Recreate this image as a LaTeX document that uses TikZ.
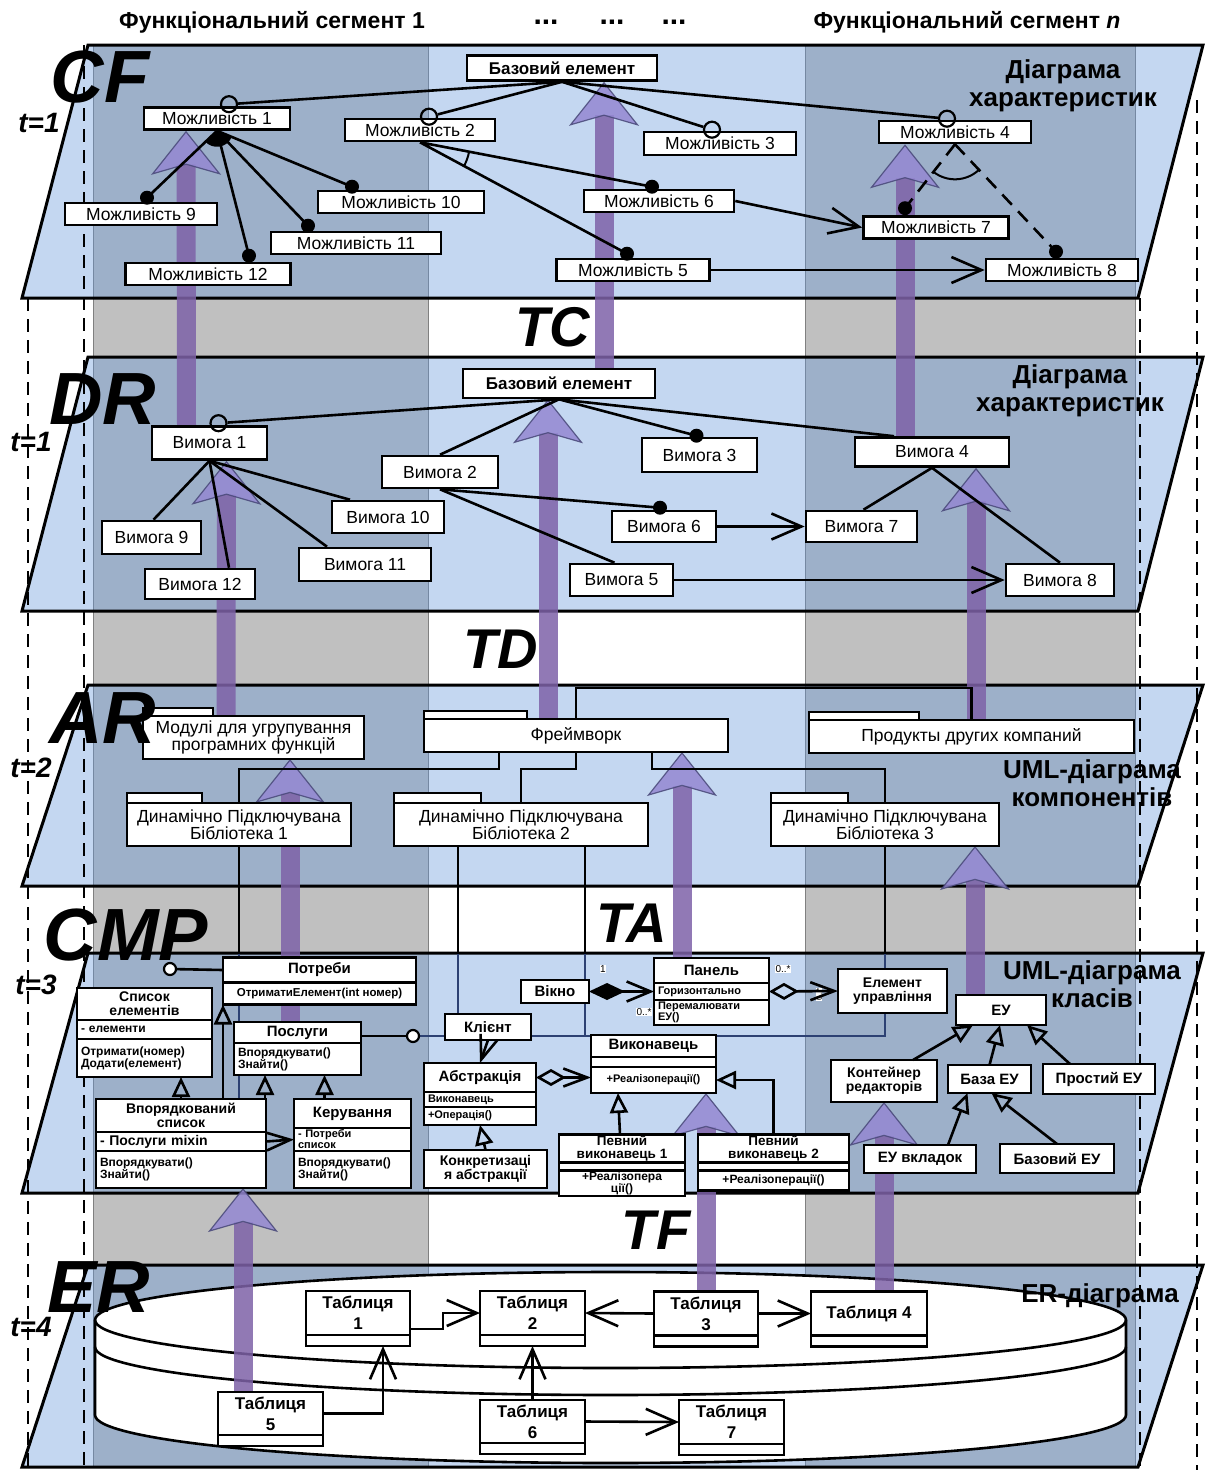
\documentclass[tikz,border=0pt]{standalone}
\usepackage{fontspec}
\setmainfont{Liberation Sans}
\usetikzlibrary{arrows.meta,positioning,calc}

\newcommand\fsz[1]{\fontsize{#1}{#1}\selectfont}

\definecolor{laycol}{RGB}{100,150,218}
\definecolor{colgray}{RGB}{192,192,192}
\definecolor{shaftcol}{RGB}{126,98,168}
\definecolor{headfill}{RGB}{148,136,210}
\definecolor{headline}{RGB}{72,72,120}
\definecolor{faintcol}{RGB}{45,65,115}

\pgfdeclarelayer{back}
\pgfdeclarelayer{mid}
\pgfsetlayers{back,mid,main}

\tikzset{
  plane/.style={draw=black, line width=3pt, fill=laycol, fill opacity=0.38},
  feat/.style={draw, line width=2.6pt, fill=white, inner sep=0pt, minimum height=22pt, font=\fsz{17.5}},
  basebox/.style={feat, font=\bfseries\fsz{17}},
  comp/.style={draw, line width=2.6pt, fill=white, inner sep=0pt, outer sep=0pt, align=center, font=\fsz{17.5}},
  ctab/.style={draw, line width=2.4pt, fill=white, inner sep=0pt, outer sep=0pt, anchor=south west, minimum height=8pt},
  cls/.style={draw, line width=2.4pt, fill=white, inner sep=1pt, outer sep=0pt, align=center, font=\bfseries\fsz{15}},
  part/.style={cls, anchor=north, font=\bfseries\fsz{12}},
  lpart/.style={part, align=left, inner xsep=4pt, text width=#1},
  tbl/.style={draw, line width=2.6pt, fill=white, inner sep=0pt, outer sep=0pt, align=center, font=\bfseries\fontsize{17}{21}\selectfont},
  tcomp/.style={tbl, anchor=north, minimum height=11pt},
  fdot/.style={circle, fill=black, inner sep=0pt, minimum size=14pt},
  odot/.style={circle, draw, line width=2.2pt, inner sep=0pt, minimum size=16pt},
  lolli/.style={circle, draw, line width=2.2pt, fill=white, inner sep=0pt, minimum size=12pt},
  mult/.style={fill=white, inner sep=0.5pt, font=\fsz{10}},
  link/.style={line width=2.6pt},
  faint/.style={draw=faintcol, line width=1.2pt},
  opn/.style={arrows={-Straight Barb[length=30pt,width=26pt]}},
  opns/.style={arrows={-Straight Barb[length=24pt,width=18pt]}},
  gen/.style={arrows={-Triangle[open,length=20pt,width=18pt]}},
  compo/.style={arrows={Diamond[length=36pt,width=17pt]-Straight Barb[length=24pt,width=20pt]}},
  aggr/.style={arrows={Diamond[open,length=30pt,width=17pt]-Straight Barb[length=24pt,width=18pt]}},
  big/.style={line width=19pt, draw=shaftcol, opacity=.85,
    arrows={-Stealth[length=44pt,width=70pt,inset=10pt,line width=1.2pt,color=headline,fill=headfill]}},
  vdash/.style={line width=1.6pt, dash pattern=on 13pt off 8pt},
  biglbl/.style={font=\bfseries\itshape\fsz{74}, inner sep=0pt},
  gaplbl/.style={font=\bfseries\itshape\fsz{56}, inner sep=0pt},
  tlbl/.style={font=\bfseries\itshape\fsz{28}, inner sep=0pt},
  ttl/.style={font=\bfseries\fontsize{26}{28}\selectfont, align=center, inner sep=0pt},
  headlbl/.style={font=\bfseries\fsz{23}, inner sep=0pt},
}

\begin{document}
\begin{tikzpicture}[x=1pt,y=-1pt]
\useasboundingbox (0,0) rectangle (1206,1470);

% background: columns, planes, database
\begin{pgfonlayer}{back}
  \fill[colgray] (93,45) rectangle (428,1467);
  \fill[colgray] (805,45) rectangle (1135,1467);
  \foreach \cx in {93,428,805,1135}
    \draw[gray, line width=0.6pt] (\cx,45) -- (\cx,1467);
  \foreach \ya/\yb in {45/298, 357/611, 685/886, 953/1193, 1265/1467}
    \draw[plane] (88,\ya) -- (1203,\ya) -- (1138,\yb) -- (22,\yb) -- cycle;
  % database cylinder
  \draw[line width=2.6pt, fill=white] (95,1320) -- (95,1415)
    arc[start angle=180, end angle=0, x radius=515.5, y radius=48] -- (1126,1320)
    arc[start angle=0, end angle=-180, x radius=515.5, y radius=48] -- cycle;
  \draw[line width=2.6pt] (95,1320) arc[start angle=180, end angle=0, x radius=515.5, y radius=48];
  \draw[line width=2.6pt] (95,1347) arc[start angle=180, end angle=0, x radius=515.5, y radius=48];
\end{pgfonlayer}

% headings
\node[headlbl] (seg1) at (272,22) {Функціональний сегмент 1};
\node[headlbl, font=\bfseries\fsz{30}] (dt1) at (546,22) {...};
\node[headlbl, font=\bfseries\fsz{30}] (dt2) at (612,22) {...};
\node[headlbl, font=\bfseries\fsz{30}] (dt3) at (674,22) {...};
\node[headlbl] (segn) at (967,22) {Функціональний сегмент \textit{n}};

% ---- CF: feature diagram
\node[basebox, minimum width=190pt, minimum height=25pt] (cfb) at (562,68) {Базовий елемент};
\node[feat, minimum width=146pt] (m1) at (217,118.5) {Можливість 1};
\node[feat, minimum width=150pt] (m2) at (420,130) {Можливість 2};
\node[feat, minimum width=152pt, minimum height=23pt] (m3) at (720,143.5) {Можливість 3};
\node[feat, minimum width=152pt] (m4) at (955,132) {Можливість 4};
\node[feat, minimum width=152pt] (m9) at (141,214) {Можливість 9};
\node[feat, minimum width=166pt] (m10) at (401,202) {Можливість 10};
\node[feat, minimum width=170pt] (m11) at (356,243) {Можливість 11};
\node[feat, minimum width=165pt] (m12) at (208,274) {Можливість 12};
\node[feat, minimum width=150pt] (m6) at (659,201) {Можливість 6};
\node[feat, minimum width=145pt] (m7) at (936,227.5) {Можливість 7};
\node[feat, minimum width=153pt] (m5) at (633,270) {Можливість 5};
\node[feat, minimum width=152pt] (m8) at (1062,270) {Можливість 8};

\node[odot] (o1) at ([xshift=12pt,yshift=2pt]m1.north) {};
\node[odot] (o2) at ([xshift=9pt,yshift=1pt]m2.north) {};
\node[odot] (o3) at ([xshift=-8pt,yshift=1pt]m3.north) {};
\node[odot] (o4) at ([xshift=-8pt,yshift=1pt]m4.north) {};
\node[fdot] (d9) at ([xshift=6pt,yshift=4pt]m9.north) {};
\node[fdot] (d10) at ([xshift=-49pt,yshift=3pt]m10.north) {};
\node[fdot] (d11) at ([xshift=-48pt,yshift=5pt]m11.north) {};
\node[fdot] (d12) at ([xshift=41pt,yshift=6pt]m12.north) {};
\node[fdot] (d6) at ([xshift=-7pt,yshift=2pt]m6.north) {};
\node[fdot] (d5) at ([xshift=-6pt,yshift=4pt]m5.north) {};
\node[fdot] (d7) at ([xshift=-31pt,yshift=7pt]m7.north) {};
\node[fdot] (d8) at ([xshift=-6pt,yshift=6pt]m8.north) {};

\foreach \o in {o1,o2,o3,o4}
  \draw[link] (cfb.south) -- (\o);
\foreach \d in {d9,d10,d11,d12}
  \draw[link] (m1.south) -- (\d.center);
\fill (m1.south) -- ++(22.5:16) arc[start angle=22.5, end angle=136.7, radius=16] -- cycle;
\draw[link] (m2.south) -- (d6.center) (m2.south) -- (d5.center);
\draw[line width=2pt] ([shift={(10.7:50)}]m2.south) arc[start angle=10.7, end angle=28.2, radius=50];
\draw[link, dash pattern=on 14pt off 9pt] (m4.south) -- (d7.center) (m4.south) -- (d8.center);
\draw[line width=2pt] ([shift={(46.9:35)}]m4.south) arc[start angle=46.9, end angle=128, radius=35];
\draw[link, opn] (m6.east) -- (m7.west);
\draw[link, opn] (m5.east) -- (m8.west);

% ---- DR: requirements
\node[basebox, minimum width=192pt, minimum height=29pt] (drb) at (559,383.5) {Базовий елемент};
\node[feat, minimum width=115pt, minimum height=33pt] (v1) at (209.5,443) {Вимога 1};
\node[feat, minimum width=116pt, minimum height=32pt] (v2) at (440,472) {Вимога 2};
\node[feat, minimum width=115pt, minimum height=34pt] (v3) at (699.5,455) {Вимога 3};
\node[feat, minimum width=154pt, minimum height=29pt] (v4) at (932,452) {Вимога 4};
\node[feat, minimum width=99pt, minimum height=33pt] (v9) at (151.5,537.5) {Вимога 9};
\node[feat, minimum width=112pt, minimum height=32pt] (v10) at (388,517) {Вимога 10};
\node[feat, minimum width=132pt, minimum height=33pt] (v11) at (365,564.5) {Вимога 11};
\node[feat, minimum width=110pt, minimum height=30pt] (v12) at (200,584) {Вимога 12};
\node[feat, minimum width=104pt, minimum height=31pt] (v6) at (664,526.5) {Вимога 6};
\node[feat, minimum width=111pt, minimum height=31pt] (v7) at (861.5,526.5) {Вимога 7};
\node[feat, minimum width=103pt, minimum height=32pt] (v5) at (621.5,580) {Вимога 5};
\node[feat, minimum width=108pt, minimum height=32pt] (v8) at (1060,580) {Вимога 8};

\node[odot] (o5) at ([xshift=9pt,yshift=2pt]v1.north) {};
\node[fdot] (d3) at ([xshift=-3pt,yshift=1pt]v3.north) {};
\node[fdot] (d6b) at ([xshift=-4pt,yshift=2pt]v6.north) {};

\draw[link] (drb.south) -- (o5);
\draw[link] (drb.south) -- (v2.north);
\draw[link] (drb.south) -- (d3.center);
\draw[link] (drb.south) -- ([xshift=-38pt]v4.north);
\draw[link] (v1.south) -- ([xshift=2pt]v9.north);
\draw[link] (v1.south) -- ([xshift=29pt]v12.north);
\draw[link] (v1.south) -- ([xshift=-38pt]v11.north);
\draw[link] (v1.south) -- ([xshift=-38pt]v10.north);
\draw[link] (v2.south) -- (d6b.center);
\draw[link] (v2.south) -- ([xshift=-7pt]v5.north);
\draw[link, opn] (v6.east) -- (v7.west);
\draw[link, opn] (v5.east) -- (v8.west);
\draw[link] (v4.south) -- ([xshift=2pt]v7.north);
\draw[link] (v4.south) -- (v8.north);

% ---- AR: components
\node[comp, minimum width=221pt, minimum height=43pt] (mod) at (253.5,737.5) {Модулі для угрупування\\програмних функцій};
\node[ctab, minimum width=70pt] (modt) at (mod.north west) {};
\node[comp, minimum width=304pt, minimum height=33pt] (fw) at (576,735.5) {Фреймворк};
\node[ctab, minimum width=103pt] (fwt) at (fw.north west) {};
\node[comp, minimum width=325pt, minimum height=33pt] (pr) at (971.5,736.5) {Продукты других компаний};
\node[ctab, minimum width=110pt] (prt) at (pr.north west) {};
\node[comp, minimum width=224pt, minimum height=43pt] (l1) at (239,824.5) {Динамічно Підключувана\\Бібліотека 1};
\node[ctab, minimum width=75pt, minimum height=10pt] (l1t) at (l1.north west) {};
\node[comp, minimum width=254pt, minimum height=43pt] (l2) at (521,824.5) {Динамічно Підключувана\\Бібліотека 2};
\node[ctab, minimum width=87pt, minimum height=10pt] (l2t) at (l2.north west) {};
\node[comp, minimum width=228pt, minimum height=43pt] (l3) at (885,824.5) {Динамічно Підключувана\\Бібліотека 3};
\node[ctab, minimum width=77pt, minimum height=10pt] (l3t) at (l3.north west) {};

\coordinate (k2) at (458,954);
\coordinate (k3) at (585,954);
\draw[link] (fw.north) -- ++(0,-31) -| (pr.north);
\draw[link] ([xshift=-77pt]fw.south) -- ++(0,17) -| (l1.north);
\draw[link] (fw.south) -- ++(0,17) -| (l2.north);
\draw[link] ([xshift=76pt]fw.south) -- ++(0,17) -| (l3.north);

% ---- CMP: classes
\node[cls, minimum width=193pt, minimum height=25pt] (potr) at (319.5,970) {Потреби};
\node[part, minimum width=193pt, minimum height=22pt, font=\bfseries\fsz{11.5}] (potro) at (potr.south) {ОтриматиЕлемент(int номер)};
\node[lolli] (lp1) at (170,969) {};

\node[cls, minimum width=135pt, minimum height=32pt, font=\bfseries\fsz{14}] (spis) at (144.5,1004) {Список\\елементів};
\node[lpart=127pt, minimum height=19pt] (spisa) at (spis.south) {- елементи};
\node[lpart=127pt, minimum height=38pt] (spiso) at (spisa.south) {Отримати(номер)\\Додати(елемент)};

\node[cls, minimum width=127pt, minimum height=21pt] (pos) at (297.5,1032.5) {Послуги};
\node[lpart=119pt, minimum height=32pt] (poso) at (pos.south) {Впорядкувати()\\Знайти()};
\node[lolli] (lp2) at (413,1036) {};

\node[cls, minimum width=170pt, minimum height=33pt, font=\bfseries\fsz{14}] (vp) at (181,1115.5) {Впорядкований\\список};
\node[lpart=162pt, minimum height=19pt, font=\bfseries\fsz{14}] (vpa) at (vp.south) {- Послуги mixin};
\node[lpart=162pt, minimum height=37pt] (vpo) at (vpa.south) {Впорядкувати()\\Знайти()};

\node[cls, minimum width=117pt, minimum height=29pt] (ker) at (352.5,1113.5) {Керування};
\node[lpart=109pt, minimum height=23pt, font=\bfseries\fsz{11}] (kera) at (ker.south) {- Потреби\\список};
\node[lpart=109pt, minimum height=37pt] (kero) at (kera.south) {Впорядкувати()\\Знайти()};

\node[cls, minimum width=68pt, minimum height=23pt] (vik) at (555,991.5) {Вікно};
\node[cls, minimum width=115pt, minimum height=25pt] (pan) at (711.5,970.5) {Панель};
\node[lpart=107pt, minimum height=17pt, font=\bfseries\fsz{11}] (pana) at (pan.south) {Горизонтально};
\node[lpart=107pt, minimum height=25pt, font=\bfseries\fsz{11}] (pano) at (pana.south) {Перемалювати\\ЕУ()};
\node[cls, minimum width=109pt, minimum height=44pt, font=\bfseries\fsz{14}] (el) at (892.5,991) {Елемент\\управління};

\node[cls, minimum width=86pt, minimum height=26pt] (kl) at (488,1027) {Клієнт};
\node[cls, minimum width=112pt, minimum height=29pt] (abs) at (480,1077.5) {Абстракція};
\node[lpart=104pt, minimum height=15pt, font=\bfseries\fsz{11}] (absa) at (abs.south) {Виконавець};
\node[lpart=104pt, minimum height=18pt, font=\bfseries\fsz{11}] (abso) at (absa.south) {+Операція()};
\node[cls, minimum width=123pt, minimum height=38pt, font=\bfseries\fsz{14}] (konk) at (485.5,1169) {Конкретизаці\\я абстракції};

\node[cls, minimum width=125pt, minimum height=22pt] (vyk) at (653.5,1046) {Виконавець};
\node[part, minimum width=125pt, minimum height=10pt] (vyka) at (vyk.south) {};
\node[part, minimum width=125pt, minimum height=26pt, font=\bfseries\fsz{11}] (vyko) at (vyka.south) {+Реалізоперації()};
\node[cls, minimum width=126pt, minimum height=27pt, font=\bfseries\fsz{13.5}] (p1) at (622,1148.5) {Певний\\виконавець 1};
\node[part, minimum width=126pt, minimum height=8pt] (p1a) at (p1.south) {};
\node[part, minimum width=126pt, minimum height=20pt, font=\bfseries\fontsize{12}{10}\selectfont] (p1o) at (p1a.south) {+Реалізопера\\ції()};
\node[cls, minimum width=151pt, minimum height=27pt, font=\bfseries\fsz{13.5}] (p2) at (773.5,1148.5) {Певний\\виконавець 2};
\node[part, minimum width=151pt, minimum height=8pt] (p2a) at (p2.south) {};
\node[part, minimum width=151pt, minimum height=20pt] (p2o) at (p2a.south) {+Реалізоперації()};

\node[cls, minimum width=90pt, minimum height=30pt] (eu) at (1001,1010) {ЕУ};
\node[cls, minimum width=106pt, minimum height=42pt, font=\bfseries\fsz{14}] (kont) at (884,1081) {Контейнер\\редакторів};
\node[cls, minimum width=83pt, minimum height=28pt] (baz) at (989.5,1079) {База ЕУ};
\node[cls, minimum width=112pt, minimum height=30pt] (pro) at (1099,1079) {Простий ЕУ};
\node[cls, minimum width=112pt, minimum height=28pt] (euv) at (920,1159) {ЕУ вкладок};
\node[cls, minimum width=114pt, minimum height=29pt] (bzu) at (1057,1158.5) {Базовий ЕУ};

\node[mult] (n1) at (603,969) {1};
\node[mult] (n2) at (644,1012) {0..*};
\node[mult] (n3) at (783,969) {0..*};
\node[mult, rotate=90, font=\fsz{8}] (n4) at (819,994) {0..*};

\draw[link] (l1.south) -- (l1.south |- k2);
\draw[link] ([xshift=-63pt]l2.south) -- (k2);
\draw[link] ([xshift=64pt]l2.south) -- (k3);
\draw[link] (l3.south) -- (l3.south |- k2);

\draw[link] (lp1) -- (potr.west);
\draw[link] (pos.east |- lp2) -- (lp2);
\draw[link, gen] (vp.north) -- (vp.north |- spiso.south);
\coordinate (cq1) at ([xshift=42pt]vp.north);
\coordinate (cq2) at ([xshift=84pt]vp.north);
\coordinate (cq3) at ([xshift=-28pt]ker.north);
\draw[link, gen] (cq1) -- (cq1 |- potro.south);
\draw[link, gen] (cq2) -- (cq2 |- poso.south);
\draw[link, gen] (cq3) -- (cq3 |- poso.south);
\draw[link, opns] (vpa.east) -- (kera.west);
\draw[link, compo] (vik.east) -- (vik.east -| pan.west);
\draw[link, aggr] (pana.east) -- (el.west);
\draw[link, opns] (kl.south) -- (abs.north);
\draw[link, gen] (konk.north) -- (abso.south);
\draw[link, aggr] (abs.east) -- (abs.east -| vyko.west);
\draw[link, gen] ([xshift=-2pt]p1.north) -- ([xshift=-35.5pt]vyko.south);
\draw[link, gen] (p2.north) |- (vyko.east);
\draw[link, gen] ([xshift=29pt]kont.north) -- ([xshift=-28pt]eu.south);
\draw[link, gen] (baz.north) -- ([xshift=-1pt]eu.south);
\draw[link, gen] ([xshift=-29pt]pro.north) -- ([xshift=26pt]eu.south);
\draw[link, gen] ([xshift=28pt]euv.north) -- ([xshift=-22pt]baz.south);
\draw[link, gen] (bzu.north) -- ([xshift=2pt]baz.south);

% ---- ER: tables
\node[tbl, minimum width=104pt, minimum height=44pt] (t1) at (358,1313) {Таблиця\\1};
\node[tcomp, minimum width=104pt] (t1c) at (t1.south) {};
\node[tbl, minimum width=105pt, minimum height=44pt] (t2) at (532.5,1313) {Таблиця\\2};
\node[tcomp, minimum width=105pt] (t2c) at (t2.south) {};
\node[tbl, minimum width=104pt, minimum height=44pt] (t3) at (706,1313.5) {Таблиця\\3};
\node[tcomp, minimum width=104pt] (t3c) at (t3.south) {};
\node[tbl, minimum width=116pt, minimum height=44pt] (t4) at (869,1313.5) {Таблиця 4};
\node[tcomp, minimum width=116pt] (t4c) at (t4.south) {};
\node[tbl, minimum width=105pt, minimum height=43pt] (t5) at (270.5,1413.5) {Таблиця\\5};
\node[tcomp, minimum width=105pt] (t5c) at (t5.south) {};
\node[tbl, minimum width=105pt, minimum height=43pt] (t6) at (532.5,1421.5) {Таблиця\\6};
\node[tcomp, minimum width=105pt] (t6c) at (t6.south) {};
\node[tbl, minimum width=105pt, minimum height=44pt] (t7) at (731.5,1422) {Таблиця\\7};
\node[tcomp, minimum width=105pt] (t7c) at (t7.south) {};

\draw[link, opn] ([yshift=-16pt]t1.east) -- ++(33,0) |- (t2.west);
\draw[link, opn] (t3.west) -- (t2.east);
\draw[link, opn] (t3.east) -- (t4.west);
\draw[link, opn] (t5.east) -| ([xshift=25pt]t1c.south);
\draw[link, opn] (t6.north) -- (t2c.south);
\draw[link, opn] (t6.east) -- (t7.west);

% ---- traces between the levels
\begin{pgfonlayer}{mid}
  \foreach \vx/\vy in {28/298, 84/45, 1140/298, 1197/100}
    \draw[vdash] (\vx,\vy) -- (\vx,1470);
  \draw[faint] (l1.south |- k2) -- (l1.south |- vp.north);
  \draw[faint] (k2) -- (k2 |- kl.north);
  \draw[faint] (k3) -- (k3 |- lp2);
  \draw[faint] (l3.south |- k2) |- (lp2);
  \draw[big] ([xshift=-23pt]v1.north) -- ([xshift=-31pt]m1.south);
  \draw[big] ([xshift=45pt]drb.north) -- ([xshift=42pt]cfb.south);
  \draw[big] ([xshift=-27pt]v4.north) -- ([xshift=-50pt]m4.south);
  \draw[big] ([xshift=-27.5pt]mod.north) -- ([xshift=17pt]v1.south);
  \draw[big] ([xshift=-28pt]fw.north) -- ([xshift=-11pt]drb.south);
  \draw[big] ([xshift=4.5pt]pr.north) -- ([xshift=44pt]v4.south);
  \draw[big] ([xshift=-7.5pt]pos.north) -- ([xshift=36.5pt]mod.south);
  \draw[big] ([xshift=-29.5pt]pan.north) -- ([xshift=106pt]fw.south);
  \draw[big] ([xshift=-26pt]eu.north) -- ([xshift=90pt]l3.south);
  \draw[big] ([xshift=-27.5pt]t5.north) -- ([xshift=62pt]vpo.south);
  \draw[big] (t3.north) -- ([xshift=52.5pt]vyko.south);
  \draw[big] ([xshift=15pt]t4.north) -- (kont.south);
\end{pgfonlayer}

% level names
\node[biglbl] (lcf) at (100,77) {CF};
\node[biglbl] (ldr) at (103,399) {DR};
\node[biglbl] (lar) at (103,718) {AR};
\node[biglbl] (lcmp) at (126,935) {CMP};
\node[biglbl] (ler) at (99,1287) {ER};
\node[tlbl] (tl1) at (39,123) {t=1};
\node[tlbl] (tl2) at (31,442) {t=1};
\node[tlbl] (tl3) at (31,768) {t=2};
\node[tlbl] (tl4) at (36,985) {t=3};
\node[tlbl] (tl5) at (31,1327) {t=4};
\node[gaplbl] (ltc) at (553,327) {TC};
\node[gaplbl] (ltd) at (501,649) {TD};
\node[gaplbl] (lta) at (632,923) {TA};
\node[gaplbl] (ltf) at (656,1230) {TF};
\node[ttl] (ttcf) at (1063,86) {Діаграма\\характеристик};
\node[ttl] (ttdr) at (1070,391) {Діаграма\\характеристик};
\node[ttl] (ttar) at (1092,783.5) {UML-діаграма\\компонентів};
\node[ttl] (ttcmp) at (1092,984) {UML-діаграма\\класів};
\node[ttl] (tter) at (1100,1296) {ER-діаграма};
\end{tikzpicture}
\end{document}
